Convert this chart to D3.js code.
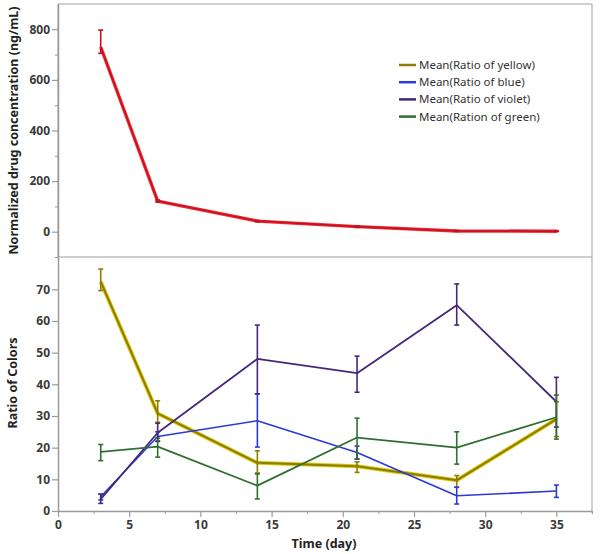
<!DOCTYPE html>
<html>
<head>
<meta charset="utf-8">
<script src="https://cdn.jsdelivr.net/npm/d3@7/dist/d3.min.js"></script>
<style>
  html, body { margin: 0; padding: 0; background: #fff; }
  svg { display: block; }
  text { font-family: "Noto Sans", "Open Sans", sans-serif; }
</style>
</head>
<body>
<svg id="chart" width="600" height="554"></svg>
<script>
// ---------- data ----------
const days = [3, 7, 14, 21, 28, 35];

const drug   = [730, 121, 42, 20, 3, 2];
const drugLo = [705, 117, 39, 17, 1, 0];
const drugHi = [797, 125, 45, 23, 5, 4];

const yellow   = [72.4, 30.8, 15.2, 14.1, 9.7, 29.0];
const yellowLo = [69.6, 28.0, 12.0, 12.2, 7.5, 23.5];
const yellowHi = [76.4, 34.8, 19.0, 15.5, 11.2, 34.5];

const blue   = [4.5, 23.5, 28.5, 18.5, 4.8, 6.3];
const blueLo = [3.5, 22.0, 20.2, 16.4, 2.2, 4.3];
const blueHi = [5.3, 25.0, 37.0, 20.5, 7.5, 8.2];

const violet   = [3.7, 24.7, 48.0, 43.5, 65.0, 34.5];
const violetLo = [2.4, 22.0, 37.0, 37.5, 58.7, 26.5];
const violetHi = [5.3, 27.7, 58.7, 48.9, 71.7, 42.2];

const green   = [18.7, 20.3, 8.0, 23.2, 20.0, 29.6];
const greenLo = [15.9, 17.0, 3.8, 16.4, 14.8, 22.7];
const greenHi = [21.0, 23.0, 11.7, 29.3, 25.0, 36.6];

const legendLabels = ["Mean(Ratio of yellow)", "Mean(Ratio of blue)", "Mean(Ratio of violet)", "Mean(Ration of green)"];

const xTicks = [0, 5, 10, 15, 20, 25, 30, 35];
const topTicks = [0, 200, 400, 600, 800];
const botTicks = [0, 10, 20, 30, 40, 50, 60, 70];

// ---------- layout ----------
const L = 58, R = 592, T = 4, M = 257, B = 511;
const svg = d3.select("#chart");

const x = d3.scaleLinear().domain([0, 37.5]).range([L, R]);
const yTop = d3.scaleLinear().domain([-100, 900]).range([M, T]);
const yBot = d3.scaleLinear().domain([0, 80.2]).range([B, M]);

const axisColor = "#9a9a9a";
const tickText = "#3a3a3a";

// frames
svg.append("rect").attr("x", L).attr("y", T).attr("width", R - L).attr("height", M - T)
  .attr("fill", "none").attr("stroke", "#b0b0b0").attr("stroke-width", 1.2);
svg.append("line").attr("x1", R).attr("x2", R).attr("y1", M).attr("y2", B + 2)
  .attr("stroke", "#b0b0b0").attr("stroke-width", 1.2);

function styleAxis(g) {
  g.selectAll(".domain").attr("stroke", axisColor).attr("stroke-width", 1.5);
  g.selectAll(".tick line").attr("stroke", axisColor).attr("stroke-width", 1.2);
  g.selectAll(".tick text").attr("fill", tickText).attr("font-size", 12).attr("font-weight", "bold")
    .style("font-family", '"Noto Sans", sans-serif');
}

// top y axis
const gTop = svg.append("g").attr("transform", `translate(${L},0)`)
  .call(d3.axisLeft(yTop).tickValues(topTicks).tickSize(6).tickPadding(2).tickSizeOuter(0));
styleAxis(gTop);
svg.append("g").attr("transform", `translate(${L},0)`)
  .call(d3.axisLeft(yTop).tickValues([-100, 100, 300, 500, 700]).tickSize(3).tickFormat("").tickSizeOuter(0))
  .call(g => { g.select(".domain").remove(); g.selectAll("line").attr("stroke", axisColor); });

// bottom y axis
const gBot = svg.append("g").attr("transform", `translate(${L},0)`)
  .call(d3.axisLeft(yBot).tickValues(botTicks).tickSize(6).tickPadding(2).tickSizeOuter(0));
styleAxis(gBot);

// x axis
const gX = svg.append("g").attr("transform", `translate(0,${B})`)
  .call(d3.axisBottom(x).tickValues(xTicks).tickSize(6).tickPadding(3).tickSizeOuter(0));
styleAxis(gX);
svg.append("g").attr("transform", `translate(0,${B})`)
  .call(d3.axisBottom(x).tickValues([2.5, 7.5, 12.5, 17.5, 22.5, 27.5, 32.5, 37.5]).tickSize(3).tickFormat("").tickSizeOuter(0))
  .call(g => { g.select(".domain").remove(); g.selectAll("line").attr("stroke", axisColor); });

// axis titles
svg.append("text").attr("transform", `translate(18,${(T + M) / 2}) rotate(-90)`)
  .attr("text-anchor", "middle").attr("font-size", 12.5).attr("font-weight", "bold").attr("fill", "#222")
  .text("Normalized drug concentration (ng/mL)");
svg.append("text").attr("transform", `translate(17,383) rotate(-90)`)
  .attr("text-anchor", "middle").attr("font-size", 12.5).attr("font-weight", "bold").attr("fill", "#222")
  .text("Ratio of Colors");
svg.append("text").attr("x", 324).attr("y", 548)
  .attr("text-anchor", "middle").attr("font-size", 12.5).attr("font-weight", "bold").attr("fill", "#222")
  .text("Time (day)");

// ---------- series ----------
function drawSeries(yScale, vals, lo, hi, color, width, under) {
  const pts = days.map((d, i) => ({ d, v: vals[i], lo: lo[i], hi: hi[i] }));
  const line = d3.line().x(p => x(p.d)).y(p => yScale(p.v));
  const g = svg.append("g");
  if (under) {
    g.append("path").attr("d", line(pts)).attr("fill", "none")
      .attr("stroke", under.color).attr("stroke-width", under.width).attr("stroke-linejoin", "round");
  }
  g.append("path").attr("d", line(pts)).attr("fill", "none")
    .attr("stroke", color).attr("stroke-width", width).attr("stroke-linejoin", "round");
  const eb = g.selectAll(".eb").data(pts).join("g");
  eb.append("line").attr("x1", p => x(p.d)).attr("x2", p => x(p.d))
    .attr("y1", p => yScale(p.lo)).attr("y2", p => yScale(p.hi))
    .attr("stroke", color).attr("stroke-width", 1.6);
  eb.append("line").attr("x1", p => x(p.d) - 2.5).attr("x2", p => x(p.d) + 2.5)
    .attr("y1", p => yScale(p.lo)).attr("y2", p => yScale(p.lo))
    .attr("stroke", color).attr("stroke-width", 1.6);
  eb.append("line").attr("x1", p => x(p.d) - 2.5).attr("x2", p => x(p.d) + 2.5)
    .attr("y1", p => yScale(p.hi)).attr("y2", p => yScale(p.hi))
    .attr("stroke", color).attr("stroke-width", 1.6);
}

drawSeries(yTop, drug, drugLo, drugHi, "#c8101e", 1.6, { color: "#f0303a", width: 3.4 });

const seriesColors = ["#8e7c00", "#2b3ad6", "#45287a", "#2f6f2f"];
drawSeries(yBot, yellow, yellowLo, yellowHi, seriesColors[0], 2, { color: "#dccb10", width: 4 });
drawSeries(yBot, blue, blueLo, blueHi, seriesColors[1], 1.6);
drawSeries(yBot, violet, violetLo, violetHi, seriesColors[2], 1.8);
drawSeries(yBot, green, greenLo, greenHi, seriesColors[3], 1.8);

// ---------- legend ----------
const leg = svg.append("g");
legendLabels.forEach((lab, i) => {
  const yy = 65 + i * 17.2;
  leg.append("line").attr("x1", 399).attr("x2", 416).attr("y1", yy).attr("y2", yy)
    .attr("stroke", seriesColors[i]).attr("stroke-width", 2.5);
  leg.append("text").attr("x", 419).attr("y", yy + 4).attr("font-size", 11.5).attr("fill", "#333")
    .text(lab);
});
</script>
</body>
</html>
